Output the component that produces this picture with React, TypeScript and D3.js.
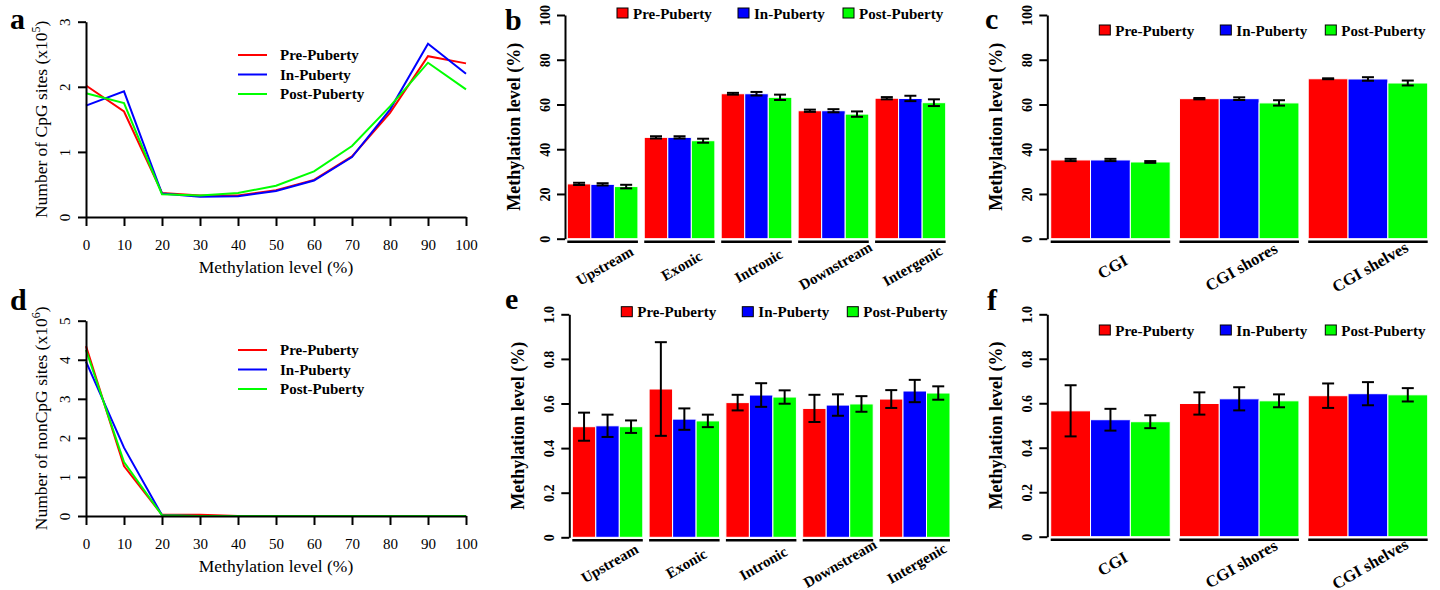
import React, { useEffect, useRef } from 'react';
import * as d3 from 'd3';

const stages = ['Pre-Puberty', 'In-Puberty', 'Post-Puberty'];
const stageColors = ['#ff0000', '#0000ff', '#00ff00'];

// panel a / d x values
const methLevels = [0, 10, 20, 30, 40, 50, 60, 70, 80, 90, 100];

// a: number of CpG sites (x10^5)
const cpgPre = [2.02, 1.62, 0.37, 0.33, 0.33, 0.41, 0.57, 0.93, 1.6, 2.47, 2.36];
const cpgIn = [1.71, 1.93, 0.36, 0.31, 0.32, 0.4, 0.56, 0.92, 1.65, 2.66, 2.2];
const cpgPost = [1.9, 1.75, 0.35, 0.33, 0.37, 0.48, 0.7, 1.09, 1.7, 2.37, 1.96];

// d: number of nonCpG sites (x10^6)
const nonCpgPre = [4.35, 1.28, 0.03, 0.03, 0, 0, 0, 0, 0, 0, 0];
const nonCpgIn = [3.95, 1.75, 0.02, 0, 0, 0, 0, 0, 0, 0, 0];
const nonCpgPost = [4.25, 1.38, 0.02, 0, 0, 0, 0, 0, 0, 0, 0];

const regions = ['Upstream', 'Exonic', 'Intronic', 'Downstream', 'Intergenic'];
const cgiRegions = ['CGI', 'CGI shores', 'CGI shelves'];

// b: CpG methylation by genomic region (%)
const cpgRegionPre = [24.5, 45.3, 64.8, 57.2, 62.8];
const cpgRegionIn = [24.3, 45.3, 64.8, 57.2, 62.7];
const cpgRegionPost = [23.3, 43.8, 63.2, 55.7, 60.8];
const cpgRegionPreErr = [0.5, 0.5, 0.4, 0.5, 0.5];
const cpgRegionInErr = [0.5, 0.5, 0.8, 0.7, 1.2];
const cpgRegionPostErr = [0.8, 0.9, 1.2, 1.2, 1.5];

// c: CpG methylation by CGI region (%)
const cpgCgiPre = [35.2, 62.6, 71.5];
const cpgCgiIn = [35.2, 62.6, 71.4];
const cpgCgiPost = [34.3, 60.7, 69.6];
const cpgCgiPreErr = [0.5, 0.3, 0.2];
const cpgCgiInErr = [0.5, 0.6, 0.8];
const cpgCgiPostErr = [0.4, 1.2, 1.1];

// e: nonCpG methylation by genomic region
const nonCpgRegionPre = [0.496, 0.665, 0.604, 0.578, 0.62];
const nonCpgRegionIn = [0.5, 0.53, 0.638, 0.593, 0.656];
const nonCpgRegionPost = [0.496, 0.522, 0.629, 0.598, 0.647];
const nonCpgRegionPreErr = [0.063, 0.21, 0.035, 0.061, 0.04];
const nonCpgRegionInErr = [0.05, 0.048, 0.053, 0.048, 0.05];
const nonCpgRegionPostErr = [0.028, 0.028, 0.03, 0.035, 0.03];

// f: nonCpG methylation by CGI region
const nonCpgCgiPre = [0.566, 0.599, 0.634];
const nonCpgCgiIn = [0.526, 0.62, 0.643];
const nonCpgCgiPost = [0.517, 0.611, 0.638];
const nonCpgCgiPreErr = [0.115, 0.05, 0.055];
const nonCpgCgiInErr = [0.049, 0.052, 0.052];
const nonCpgCgiPostErr = [0.029, 0.029, 0.03];

const pctTicks = [0, 20, 40, 60, 80, 100];
const fracTicks = [0, 0.2, 0.4, 0.6, 0.8, 1.0];

const SERIF = '"Liberation Serif", "Times New Roman", serif';

function panelLetter(svg, letter, x, y) {
    svg.append('text')
        .attr('x', x).attr('y', y)
        .attr('font-family', SERIF)
        .attr('font-weight', 'bold')
        .attr('font-size', 30)
        .text(letter);
}

function styleAxis(g, fontSize, bold) {
    g.attr('font-family', SERIF).attr('font-size', fontSize)
        .attr('font-weight', bold ? 'bold' : 'normal');
    g.select('.domain').attr('stroke-width', 2);
    g.selectAll('.tick line').attr('stroke-width', 2);
    g.selectAll('.tick text').attr('fill', '#000');
}

function rotateYLabels(g, off) {
    g.selectAll('.tick text')
        .attr('transform', 'rotate(-90)')
        .attr('x', 0)
        .attr('y', -off)
        .attr('dy', 0)
        .attr('text-anchor', 'middle');
}

function drawLinePanel(svg, cfg) {
    const { left, right, top, bottom, yMax, series, letter, titleMain, exp, legendY } = cfg;
    const x = d3.scaleLinear().domain([0, 100]).range([left, right]);
    const y = d3.scaleLinear().domain([0, yMax]).range([bottom, top]);

    const line = d3.line().x((d, i) => x(methLevels[i])).y(d => y(d));
    series.forEach((s, i) => {
        svg.append('path')
            .datum(s)
            .attr('d', line)
            .attr('fill', 'none')
            .attr('stroke', stageColors[i])
            .attr('stroke-width', 2);
    });

    const xAxis = svg.append('g')
        .attr('transform', `translate(0,${bottom})`)
        .call(d3.axisBottom(x).tickValues(methLevels).tickSize(9).tickSizeOuter(0));
    styleAxis(xAxis, 15, false);
    xAxis.selectAll('.tick text').attr('y', 33).attr('dy', 0);

    const yAxis = svg.append('g')
        .attr('transform', `translate(${left},0)`)
        .call(d3.axisLeft(y).tickValues(d3.range(0, yMax + 1)).tickFormat(d3.format('d'))
            .tickSize(8).tickSizeOuter(0));
    styleAxis(yAxis, 15, false);
    rotateYLabels(yAxis, 16);

    svg.append('text')
        .attr('x', (left + right) / 2).attr('y', bottom + 56)
        .attr('text-anchor', 'middle')
        .attr('font-family', SERIF).attr('font-size', 17.5)
        .text('Methylation level (%)');

    const yt = svg.append('text')
        .attr('transform', `translate(${left - 39},${(top + bottom) / 2}) rotate(-90)`)
        .attr('text-anchor', 'middle')
        .attr('font-family', SERIF).attr('font-size', 17.5);
    yt.append('tspan').text(titleMain + ' (x10');
    yt.append('tspan').attr('dy', -7).attr('font-size', 12).text(exp);
    yt.append('tspan').attr('dy', 7).text(')');

    // legend
    stages.forEach((s, i) => {
        const ly = legendY + i * 19.5;
        svg.append('line')
            .attr('x1', left + 152).attr('x2', left + 181)
            .attr('y1', ly).attr('y2', ly)
            .attr('stroke', stageColors[i]).attr('stroke-width', 2);
        svg.append('text')
            .attr('x', left + 194).attr('y', ly + 5)
            .attr('font-family', SERIF).attr('font-size', 15).attr('font-weight', 'bold')
            .text(s);
    });

    panelLetter(svg, letter, 10, top + cfg.letterDy);
}

function drawBarPanel(svg, cfg) {
    const { axisX, barStart, barEnd, top, bottom, yMax, ticks, cats, values, errs, gapFrac,
        letter, letterPos, legendTop, catSize, catDy, tickFmt } = cfg;
    const y = d3.scaleLinear().domain([0, yMax]).range([bottom, top]);
    const x0 = d3.scaleBand().domain(cats).range([barStart, barEnd]).paddingInner(gapFrac);
    const x1 = d3.scaleBand().domain(stages).range([0, x0.bandwidth()]);

    cats.forEach((c, ci) => {
        stages.forEach((s, si) => {
            const v = values[si][ci];
            const e = errs[si][ci];
            const bx = x0(c) + x1(s);
            svg.append('rect')
                .attr('x', bx).attr('y', y(v))
                .attr('width', x1.bandwidth()).attr('height', y(0) - y(v))
                .attr('fill', stageColors[si])
                .attr('stroke', '#fff').attr('stroke-width', 1);
            const cx = bx + x1.bandwidth() / 2;
            const eb = svg.append('g').attr('stroke', '#000').attr('stroke-width', 2);
            eb.append('line').attr('x1', cx).attr('x2', cx).attr('y1', y(v - e)).attr('y2', y(v + e));
            eb.append('line').attr('x1', cx - 6).attr('x2', cx + 6).attr('y1', y(v - e)).attr('y2', y(v - e));
            eb.append('line').attr('x1', cx - 6).attr('x2', cx + 6).attr('y1', y(v + e)).attr('y2', y(v + e));
        });
        // group underline
        svg.append('line')
            .attr('x1', x0(c)).attr('x2', x0(c) + x0.bandwidth())
            .attr('y1', bottom + 3).attr('y2', bottom + 3)
            .attr('stroke', '#000').attr('stroke-width', 2.5);
        const gx = x0(c) + x0.bandwidth() / 2;
        svg.append('text')
            .attr('transform', `translate(${gx + 2},${bottom + catDy}) rotate(-30)`)
            .attr('text-anchor', 'middle')
            .attr('dy', '0.35em')
            .attr('font-family', SERIF).attr('font-size', catSize).attr('font-weight', 'bold')
            .text(c);
    });

    const yAxis = svg.append('g')
        .attr('transform', `translate(${axisX},0)`)
        .call(d3.axisLeft(y).tickValues(ticks).tickSize(8).tickSizeOuter(0).tickFormat(tickFmt));
    styleAxis(yAxis, 14, true);
    rotateYLabels(yAxis, 15);

    svg.append('text')
        .attr('transform', `translate(${axisX - 45},${(top + bottom) / 2}) rotate(-90)`)
        .attr('text-anchor', 'middle')
        .attr('font-family', SERIF).attr('font-size', 18).attr('font-weight', 'bold')
        .text('Methylation level (%)');

    const legOffsets = [52, 173, 278];
    stages.forEach((s, i) => {
        const lx = axisX + legOffsets[i];
        svg.append('rect')
            .attr('x', lx).attr('y', legendTop)
            .attr('width', 11).attr('height', 10)
            .attr('fill', stageColors[i])
            .attr('stroke', '#000').attr('stroke-width', 1);
        svg.append('text')
            .attr('x', lx + 16).attr('y', legendTop + 10.5)
            .attr('font-family', SERIF).attr('font-size', 15).attr('font-weight', 'bold')
            .text(s);
    });

    panelLetter(svg, letter, letterPos[0], letterPos[1]);
}

const App = () => {
    const svgRef = useRef(null);

    useEffect(() => {
        const svg = d3.select(svgRef.current);
        svg.selectAll('*').remove();

        drawLinePanel(svg, {
            left: 86, right: 466, top: 21.7, bottom: 217, yMax: 3,
            series: [cpgPre, cpgIn, cpgPost],
            letter: 'a', letterDy: 7,
            titleMain: 'Number of CpG sites', exp: '5', legendY: 55,
        });
        drawLinePanel(svg, {
            left: 86, right: 466, top: 320.7, bottom: 516, yMax: 5,
            series: [nonCpgPre, nonCpgIn, nonCpgPost],
            letter: 'd', letterDy: -11,
            titleMain: 'Number of nonCpG sites', exp: '6', legendY: 350,
        });

        const pctFmt = d3.format('d');
        const fracFmt = d => (d === 0 ? '0' : d3.format('.1f')(d));

        drawBarPanel(svg, {
            axisX: 565, barStart: 567.3, barEnd: 945.7, top: 15, bottom: 238.7, yMax: 100,
            ticks: pctTicks, tickFmt: pctFmt, cats: regions, gapFrac: 0.082,
            values: [cpgRegionPre, cpgRegionIn, cpgRegionPost],
            errs: [cpgRegionPreErr, cpgRegionInErr, cpgRegionPostErr],
            letter: 'b', letterPos: [505, 30], legendTop: 8, catSize: 15, catDy: 27,
        });
        drawBarPanel(svg, {
            axisX: 1047.3, barStart: 1050.7, barEnd: 1427.7, top: 15, bottom: 238.7, yMax: 100,
            ticks: pctTicks, tickFmt: pctFmt, cats: cgiRegions, gapFrac: 0.072,
            values: [cpgCgiPre, cpgCgiIn, cpgCgiPost],
            errs: [cpgCgiPreErr, cpgCgiInErr, cpgCgiPostErr],
            letter: 'c', letterPos: [985, 29], legendTop: 25, catSize: 16.5, catDy: 28,
        });
        drawBarPanel(svg, {
            axisX: 569.3, barStart: 572.3, barEnd: 950, top: 314.3, bottom: 537.3, yMax: 1,
            ticks: fracTicks, tickFmt: fracFmt, cats: regions, gapFrac: 0.082,
            values: [nonCpgRegionPre, nonCpgRegionIn, nonCpgRegionPost],
            errs: [nonCpgRegionPreErr, nonCpgRegionInErr, nonCpgRegionPostErr],
            letter: 'e', letterPos: [505, 309], legendTop: 306.7, catSize: 15, catDy: 26,
        });
        drawBarPanel(svg, {
            axisX: 1047.3, barStart: 1050.7, barEnd: 1427.7, top: 314.3, bottom: 536.7, yMax: 1,
            ticks: fracTicks, tickFmt: fracFmt, cats: cgiRegions, gapFrac: 0.072,
            values: [nonCpgCgiPre, nonCpgCgiIn, nonCpgCgiPost],
            errs: [nonCpgCgiPreErr, nonCpgCgiInErr, nonCpgCgiPostErr],
            letter: 'f', letterPos: [987, 310], legendTop: 325, catSize: 16.5, catDy: 27,
        });
    }, []);

    return (
        <svg ref={svgRef} width={1440} height={590}
            style={{ position: 'absolute', left: 0, top: 0, background: '#fff' }} />
    );
};

export default App;
